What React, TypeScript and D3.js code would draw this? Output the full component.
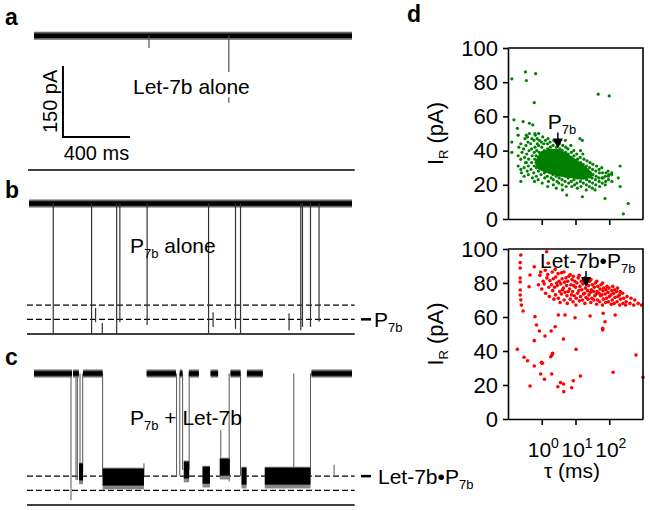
import React, { useRef, useEffect } from "react";
import * as d3 from "d3";

const FONT = "'Liberation Sans', Arial, Helvetica, sans-serif";

// ---------- current traces: time in ms, current in pA ----------
const traceDuration = [0, 1900];
const openA = 284;
const openB = 276;
const openC = 278;
const guideLevels = [61, 31]; // dashed guides: Let-7b•P7b and P7b levels
const scaleBarStart = [173, 70]; // ms, pA
const scaleBarMs = 400;
const scaleBarPa = 150;

// [time, upper current, lower current]
const spikesA = [
  [687, 284, 258],
  [1164, 284, 207],
  [1164, 154, 142],
];
const spikesB = [
  [115, 276, 0], [344, 276, 2], [368, 55, 25], [408, 23, 0], [494, 276, 0],
  [513, 276, 25], [676, 276, 19], [1043, 276, 2], [1070, 46, 15], [1204, 276, 11],
  [1234, 276, 0], [1524, 44, 8], [1594, 276, 8], [1604, 276, 15], [1652, 276, 15],
  [1703, 276, 26],
];
// open-pore stretches of trace c [start, end]
const openSegmentsC = [
  [0, 227], [233, 268], [293, 410], [673, 848], [871, 887], [925, 985],
  [1055, 1100], [1174, 1234], [1272, 1367], [1658, 1900],
];
// bound Let-7b•P7b stretches [start, end, mean current]
const boundBlocksC = [
  [269, 293, 70], [410, 657, 59], [895, 927, 74], [1007, 1051, 63],
  [1110, 1170, 80], [1240, 1270, 61], [1379, 1652, 61],
];
const transitionsC = [
  [221, 278, 10], [251, 278, 53], [259, 278, 53], [275, 278, 70], [291, 278, 70],
  [410, 278, 59], [657, 88, 59], [852, 278, 62], [871, 278, 62], [888, 278, 74],
  [927, 278, 74], [1116, 158, 68], [1166, 278, 50], [1234, 278, 61], [1552, 278, 36],
  [1652, 278, 61], [1793, 85, 63],
];

// ---------- scatter: dwell time tau (ms) vs residual current I_R (pA) ----------
const yTicks = [0, 20, 40, 60, 80, 100];
const xTicks = [1, 10, 100];
const xTickExp = ["0", "1", "2"];

const greenPoints = [
  [0.13, 82], [0.33, 86], [0.66, 85], [0.35, 81], [0.6, 68], [47, 73], [100, 72],
  [0.15, 58], [0.28, 57], [0.19, 53], [0.43, 56], [0.54, 55], [0.63, 50],
  [0.13, 45], [0.2, 49], [0.38, 48], [0.13, 39], [0.2, 37], [0.24, 35], [0.24, 29],
  [0.24, 22], [0.33, 33], [13.5, 47], [16, 46], [210, 31], [185, 24], [210, 19],
  [365, 9], [262, 3], [75, 12], [38, 17], [16, 13], [5.5, 14], [66, 24], [94, 25], [118, 26],
  [0.2, 31], [0.21, 42], [0.25, 27], [0.26, 39], [0.24, 44],
  [0.3, 30], [0.31, 36], [0.29, 41], [0.32, 47], [0.3, 25],
  [0.35, 33], [0.36, 38], [0.34, 43], [0.37, 28], [0.35, 49],
  [0.4, 31], [0.41, 35], [0.42, 40], [0.39, 45], [0.4, 26], [0.43, 50],
  [0.48, 29], [0.5, 33], [0.52, 37], [0.5, 41], [0.47, 44], [0.53, 24], [0.51, 47],
  [0.58, 27], [0.6, 31], [0.62, 35], [0.6, 39], [0.63, 42], [0.59, 46], [0.61, 22], [0.64, 49],
  [0.7, 30], [0.72, 34], [0.68, 37], [0.71, 40], [0.74, 44], [0.69, 25], [0.73, 47],
  [0.8, 28], [0.82, 32], [0.79, 36], [0.84, 39], [0.8, 43], [0.78, 23], [0.85, 46], [0.81, 50],
  [0.95, 26], [1, 30], [1.02, 33], [0.98, 36], [1.05, 39], [1, 42], [0.97, 45], [1.03, 21], [1.07, 48],
  [1.2, 27], [1.22, 31], [1.18, 34], [1.25, 37], [1.2, 40], [1.15, 44], [1.23, 24], [1.28, 46],
  [1.45, 25], [1.5, 29], [1.52, 32], [1.48, 35], [1.55, 38], [1.5, 41], [1.47, 44], [1.58, 22], [1.53, 47], [1.5, 19],
  [1.8, 27], [1.85, 30], [1.78, 33], [1.82, 36], [1.87, 39], [1.8, 42], [1.76, 45], [1.9, 24],
  [2.2, 23], [2.15, 26], [2.25, 29], [2.2, 32], [2.18, 35], [2.3, 37], [2.22, 40], [2.16, 43], [2.28, 46], [2.2, 20],
  [2.7, 25], [2.65, 28], [2.75, 31], [2.7, 34], [2.8, 36], [2.68, 39], [2.74, 42], [2.6, 45], [2.85, 22], [2.7, 18],
  [3.3, 24], [3.25, 27], [3.4, 30], [3.3, 33], [3.35, 35], [3.28, 38], [3.45, 41], [3.3, 44], [3.2, 21],
  [4, 23], [3.9, 26], [4.1, 29], [4, 31], [4.15, 34], [3.95, 37], [4.05, 40], [4.2, 43], [4, 20], [4.1, 17],
  [4.9, 22], [5, 25], [5.1, 28], [5, 30], [5.2, 33], [4.95, 36], [5.05, 39], [5.15, 42], [5, 46], [5.3, 19],
  [6, 24], [6.1, 27], [5.9, 29], [6.2, 32], [6, 35], [6.05, 38], [5.95, 41], [6.3, 21],
  [7.5, 22], [7.4, 25], [7.6, 28], [7.5, 31], [7.7, 33], [7.45, 36], [7.55, 39], [7.8, 19], [7.3, 43],
  [9, 23], [9.2, 26], [8.8, 29], [9.1, 31], [9.3, 34], [9, 37], [8.9, 40], [9.4, 20],
  [11, 21], [11.3, 24], [10.8, 27], [11.2, 30], [11, 32], [11.5, 35], [10.9, 38], [11.4, 18],
  [14, 22], [13.7, 25], [14.3, 28], [14, 30], [14.2, 33], [13.8, 36], [14.5, 19], [14.1, 40],
  [17, 21], [17.5, 24], [16.8, 27], [17.2, 29], [17, 32], [17.8, 35], [16.5, 38],
  [21, 20], [21.5, 23], [20.5, 26], [21.2, 28], [21, 31], [22, 34], [20.8, 17],
  [26, 22], [25.5, 25], [26.5, 27], [26, 30], [27, 33], [25.8, 19],
  [32, 21], [31, 24], [33, 26], [32, 29], [32.5, 32], [31.5, 18],
  [40, 20], [39, 23], [41, 25], [40, 28], [42, 31],
  [50, 22], [49, 24], [51, 27], [50, 29], [52, 19],
  [62, 21], [61, 24], [63, 27], [60, 30],
  [78, 22], [77, 25], [80, 27], [76, 20],
  [95, 23], [97, 26], [92, 28], [120, 22], [118, 27],
];
// outline of the solid dense core of the green cloud
const greenCore = [
  [0.6, 33], [0.9, 39], [1.6, 41], [3, 41], [6, 38], [12, 34], [22, 30], [32, 27],
  [30, 24], [15, 23], [7, 24], [3, 25], [1.3, 27], [0.8, 29],
];

const redPoints = [
  [0.24, 96.5], [0.23, 92], [0.23, 88.8], [0.23, 82.9], [0.23, 80.6], [0.23, 75.9], [0.23, 72.9],
  [0.24, 70], [0.25, 67], [0.28, 63.5], [1.4, 98.4], [0.6, 89.6], [1.56, 91.6], [0.45, 84.7],
  [0.63, 60.2], [0.7, 55.3], [0.42, 77.8],
  [0.85, 51.8], [1.9, 51.8], [1.25, 48.8], [0.6, 46.1], [4.4, 47], [0.19, 41], [10.4, 41],
  [620, 37.6], [0.3, 36.3], [0.38, 34.3], [2.1, 38.6], [2.0, 37.6], [1.85, 36.6], [1.0, 33.1],
  [1.05, 32.8], [0.98, 33.4], [0.6, 31.2], [0.93, 26.5], [1.97, 26.5], [14, 25.3], [130, 27.5],
  [1000, 24.5], [1.2, 23.4], [8.6, 22.5], [3.6, 21.4], [4.4, 20.6], [0.45, 19.4], [3.0, 19],
  [7.7, 18.4], [4.5, 16.1], [64, 52.4], [3.1, 61.2], [4.9, 61.2], [2.5, 54.3], [9.7, 59.6],
  [27, 60.6], [66, 62.2], [150, 61.2], [75, 57.2], [64, 53.4],
  [0.8, 79], [0.88, 84.5], [1, 76.5], [1.1, 81], [0.93, 86.5],
  [1.3, 74], [1.18, 79.5], [1.42, 83], [1.27, 87.5], [1.62, 77.5], [1.75, 81.5], [1.5, 85], [1.68, 72],
  [2.1, 75.5], [1.95, 79], [2.2, 82.5], [2.05, 86.5], [2.3, 70.5],
  [2.55, 73], [2.4, 77.5], [2.75, 80], [2.6, 83.5], [2.5, 88],
  [3.1, 71], [3.4, 75], [2.9, 78.5], [3.25, 81], [3.05, 85.5], [3.5, 68.5],
  [3.8, 73.5], [4.1, 76], [3.65, 79.5], [4.0, 82.5], [3.85, 86],
  [4.6, 70], [4.9, 74.5], [4.4, 77], [4.75, 80.5], [5.2, 83], [4.55, 86.5],
  [5.6, 72.5], [6.1, 75], [5.45, 78.5], [5.9, 81], [6.3, 84], [5.7, 68],
  [7, 70.5], [7.6, 73], [6.7, 76.5], [7.3, 79], [7.9, 82], [6.95, 85],
  [8.5, 69], [9.2, 72.5], [8.2, 75], [8.8, 78.5], [9.5, 81], [8.6, 84],
  [10.5, 71], [11.5, 74], [10, 77.5], [11, 80], [12, 83], [10.3, 67],
  [13, 69.5], [14.2, 72], [12.6, 75.5], [13.5, 78], [14.8, 81], [12.9, 84.5],
  [16, 70], [17.3, 73.5], [15.5, 76], [16.6, 79.5], [18, 82],
  [19, 68], [20.5, 71.5], [18.6, 74], [19.8, 77], [21, 80], [19.4, 83],
  [23.5, 70.5], [25, 73], [22.8, 75.5], [24.3, 78.5], [26, 81],
  [28.5, 68.5], [30.5, 71], [27.8, 74.5], [29.5, 76], [31.5, 79], [28.8, 82],
  [35, 70], [37.5, 72.5], [34, 75], [36, 77.5], [38.5, 80],
  [42, 67.5], [45, 70], [41, 73.5], [43.5, 75], [46, 78], [42.5, 81],
  [52, 69], [55, 72.5], [50, 74], [53.5, 76.5], [57, 79],
  [63, 67], [67, 70.5], [61, 73], [65, 75.5], [69, 77], [64, 80],
  [78, 68.5], [83, 71], [76, 73.5], [80, 76], [86, 78],
  [95, 69], [101, 72], [92, 74.5], [98, 77],
  [115, 67.5], [122, 70], [112, 73], [119, 75.5], [127, 78],
  [140, 68], [148, 71.5], [136, 74], [145, 76],
  [170, 69], [180, 72], [165, 75], [176, 77],
  [205, 67], [216, 70.5], [200, 73], [212, 75],
  [255, 68], [268, 71], [248, 74], [315, 69], [335, 72], [305, 67],
  [410, 68], [440, 71], [530, 67], [570, 70], [720, 68], [900, 67],
];

const tx = d3.scaleLinear().domain(traceDuration).range([34, 352]);
const currentScale = (zeroY: number) =>
  d3.scaleLinear().domain([0, 300]).range([zeroY, zeroY - 141.9]);

const Sub = ({ children }: { children: string }) => (
  <tspan fontSize={13} dy={5}>{children}</tspan>
);

function OpenBand({ y, x0, x1 }: { y: number; x0: number; x1: number }) {
  return (
    <g>
      <line x1={x0} x2={x1} y1={y} y2={y} stroke="#666" strokeWidth={8} />
      <line x1={x0} x2={x1} y1={y} y2={y} stroke="#000" strokeWidth={4.5} />
    </g>
  );
}

function Guides({ cy }: { cy: d3.ScaleLinear<number, number> }) {
  return (
    <g>
      {guideLevels.map((lv) => (
        <line key={lv} x1={tx(-42)} x2={tx(1916)} y1={cy(lv)} y2={cy(lv)}
          stroke="#000" strokeWidth={1.3} strokeDasharray="6 3" />
      ))}
      <line x1={tx(-42)} x2={tx(1916)} y1={cy(0)} y2={cy(0)} stroke="#000" strokeWidth={1.5} />
    </g>
  );
}

function PanelA() {
  const cy = currentScale(170);
  const [t0, i0] = scaleBarStart;
  return (
    <g>
      <text x={5} y={25} fontSize={23} fontWeight="bold">a</text>
      <OpenBand y={cy(openA)} x0={tx(0)} x1={tx(1900)} />
      {spikesA.map(([t, hi, lo], i) => (
        <line key={i} x1={tx(t)} x2={tx(t)} y1={cy(hi)} y2={cy(lo)} stroke="#555" strokeWidth={1.2} />
      ))}
      <path d={`M${tx(t0)},${cy(i0 + scaleBarPa)}V${cy(i0)}H${tx(t0 + scaleBarMs)}`}
        fill="none" stroke="#000" strokeWidth={2} />
      <text transform={`translate(57,${(cy(i0) + cy(i0 + scaleBarPa)) / 2}) rotate(-90)`}
        textAnchor="middle" fontSize={20}>150 pA</text>
      <text x={tx(t0 + scaleBarMs / 2)} y={160} textAnchor="middle" fontSize={20}>400 ms</text>
      <text x={133} y={94} fontSize={21}>Let-7b alone</text>
      <line x1={tx(-36)} x2={tx(1916)} y1={cy(0)} y2={cy(0)} stroke="#000" strokeWidth={1.5} />
    </g>
  );
}

function PanelB() {
  const cy = currentScale(334);
  return (
    <g>
      <text x={5} y={198} fontSize={23} fontWeight="bold">b</text>
      <Guides cy={cy} />
      <OpenBand y={cy(openB)} x0={tx(-30)} x1={tx(1900)} />
      {spikesB.map(([t, hi, lo], i) => (
        <line key={i} x1={tx(t)} x2={tx(t)} y1={cy(hi)} y2={cy(lo)} stroke="#333" strokeWidth={1.2} />
      ))}
      <text x={130} y={253} fontSize={21}>P<Sub>7b</Sub><tspan dy={-5}> alone</tspan></text>
      <line x1={361} x2={371} y1={cy(guideLevels[1])} y2={cy(guideLevels[1])} stroke="#000" strokeWidth={2.5} />
      <text x={374} y={cy(guideLevels[1]) + 7.5} fontSize={21}>P<Sub>7b</Sub></text>
    </g>
  );
}

function PanelC() {
  const cy = currentScale(505);
  return (
    <g>
      <text x={5} y={365} fontSize={23} fontWeight="bold">c</text>
      <Guides cy={cy} />
      {transitionsC.map(([t, hi, lo], i) => (
        <line key={i} x1={tx(t)} x2={tx(t)} y1={cy(hi)} y2={cy(lo)} stroke="#555" strokeWidth={1} />
      ))}
      {openSegmentsC.map(([a, b], i) => (
        <OpenBand key={i} y={cy(openC)} x0={tx(a)} x1={tx(b)} />
      ))}
      {boundBlocksC.map(([a, b, lv], i) => (
        <g key={i}>
          <rect x={tx(a)} width={tx(b) - tx(a)} y={cy(lv + 20)} height={cy(lv - 26) - cy(lv + 20)} fill="#888" />
          <rect x={tx(a)} width={tx(b) - tx(a)} y={cy(lv + 18)} height={cy(lv - 18) - cy(lv + 18)} fill="#000" />
        </g>
      ))}
      <text x={130} y={425} fontSize={21}>P<Sub>7b</Sub><tspan dy={-5}> + Let-7b</tspan></text>
      <line x1={361} x2={371} y1={cy(guideLevels[0])} y2={cy(guideLevels[0])} stroke="#000" strokeWidth={2.5} />
      <text x={378} y={cy(guideLevels[0]) + 7.5} fontSize={21}>Let-7b•P<Sub>7b</Sub></text>
    </g>
  );
}

type ScatterProps = {
  points: number[][];
  core?: number[][];
  color: string;
  radius: number;
  y0: number;
  y1: number;
  tickLabels: boolean;
  noteAt: number[];
  noteDx: number;
  noteText: string;
};

function Scatter({ points, core, color, radius, y0, y1, tickLabels, noteAt, noteDx, noteText }: ScatterProps) {
  const gy = useRef<SVGGElement>(null);
  const gx = useRef<SVGGElement>(null);
  const x = d3.scaleLog().domain([0.1, 1000]).range([508, 643]);
  const y = d3.scaleLinear().domain([0, 100]).range([y0, y1]);

  useEffect(() => {
    const ay = d3.select(gy.current);
    ay.selectAll("*").remove();
    ay.call(d3.axisLeft(y).tickValues(yTicks).tickSize(5).tickPadding(5).tickSizeOuter(0));
    ay.selectAll("text").attr("font-size", 22).attr("font-family", FONT).attr("fill", "#000");
    ay.selectAll("path,line").attr("stroke", "#000").attr("stroke-width", 1.6);
    const ax = d3.select(gx.current);
    ax.selectAll("*").remove();
    ax.call(d3.axisBottom(x).tickValues(xTicks).tickSize(6).tickFormat(() => "").tickSizeOuter(0));
    ax.selectAll("path,line").attr("stroke", "#000").attr("stroke-width", 1.6);
  }, [y0, y1]);

  const line = d3.line<number[]>().x((d) => x(d[0])).y((d) => y(d[1])).curve(d3.curveLinearClosed);
  const tipX = x(noteAt[0]);
  const tipY = y(noteAt[1]);

  return (
    <g>
      {core && <path d={line(core) ?? ""} fill={color} />}
      {points.map((d, i) => (
        <circle key={i} cx={x(d[0])} cy={y(d[1])} r={radius} fill={color} />
      ))}
      <g ref={gy} transform="translate(508,0)" />
      <g ref={gx} transform={`translate(0,${y0})`} />
      <path d={`M508,${y1}H643V${y0}`} fill="none" stroke="#000" strokeWidth={1.6} />
      <line x1={tipX} x2={tipX} y1={tipY - 16} y2={tipY - 8} stroke="#000" strokeWidth={1.5} />
      <path d={`M${tipX - 5},${tipY - 10}L${tipX + 5},${tipY - 10}L${tipX},${tipY}Z`} fill="#000" />
      <text x={tipX + noteDx} y={tipY - 19} fontSize={21}>{noteText}<Sub>7b</Sub></text>
      <text transform={`translate(443,${(y0 + y1) / 2}) rotate(-90)`} textAnchor="middle" fontSize={22}>
        I<Sub>R</Sub><tspan dy={-5}> (pA)</tspan>
      </text>
      {tickLabels &&
        xTicks.map((t, i) => (
          <text key={t} x={x(t) - 14} y={y0 + 38} fontSize={21}>
            10<tspan fontSize={14} dy={-9}>{xTickExp[i]}</tspan>
          </text>
        ))}
    </g>
  );
}

export default function App() {
  return (
    <svg width={650} height={510} style={{ position: "absolute", left: 0, top: 0, background: "#fff" }}
      fontFamily={FONT}>
      <PanelA />
      <PanelB />
      <PanelC />
      <text x={407} y={22} fontSize={23} fontWeight="bold">d</text>
      <Scatter points={greenPoints} core={greenCore} color="#008000" radius={1.6} y0={219} y1={48}
        tickLabels={false} noteAt={[3.0, 41.3]} noteDx={-10} noteText="P" />
      <Scatter points={redPoints} color="#ff0000" radius={1.8} y0={419} y1={249}
        tickLabels noteAt={[20.5, 77.6]} noteDx={-46} noteText="Let-7b•P" />
      <text x={572} y={478} textAnchor="middle" fontSize={21}>τ (ms)</text>
    </svg>
  );
}
